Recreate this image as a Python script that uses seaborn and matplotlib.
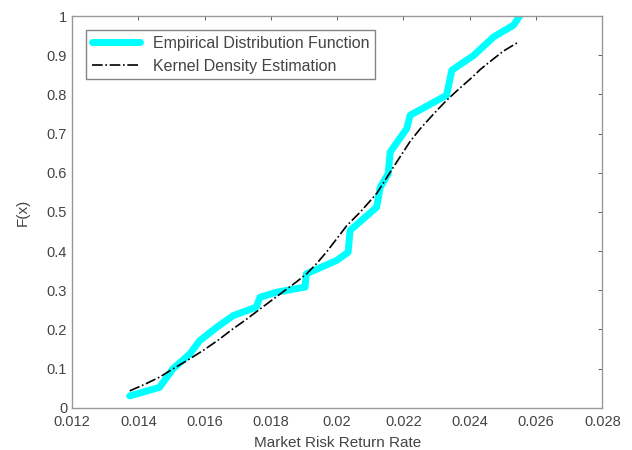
import numpy as np
import pandas as pd
import matplotlib
matplotlib.use("Agg")
import matplotlib.pyplot as plt
import seaborn as sns

# empirical distribution function
edf_x = [0.01374, 0.01464, 0.01504, 0.01504, 0.01555, 0.01585, 0.01636, 0.01686, 0.01756,
         0.01767, 0.01817, 0.01903, 0.01907, 0.01998, 0.02033, 0.02039, 0.02119, 0.02130,
         0.02154, 0.02160, 0.02210, 0.02220, 0.02330, 0.02346, 0.02412, 0.02472, 0.02532, 0.02550]
edf_y = [0.030, 0.052, 0.082, 0.116, 0.137, 0.171, 0.205, 0.235, 0.257,
         0.282, 0.295, 0.308, 0.342, 0.376, 0.397, 0.453, 0.512, 0.563,
         0.598, 0.653, 0.713, 0.747, 0.798, 0.862, 0.900, 0.947, 0.977, 1.000]

# kernel density estimation curve
kde_x = [0.01374, 0.01420, 0.01464, 0.01504, 0.01550, 0.01595, 0.01640, 0.01680, 0.01725,
         0.01767, 0.01805, 0.01840, 0.01875, 0.01908, 0.01940, 0.01970, 0.02000, 0.02029,
         0.02070, 0.02120, 0.02170, 0.02220, 0.02250, 0.02280, 0.02305, 0.02330, 0.02362,
         0.02402, 0.02432, 0.02470, 0.02502, 0.02547]
kde_y = [0.043, 0.060, 0.078, 0.099, 0.122, 0.146, 0.172, 0.198, 0.225,
         0.252, 0.276, 0.298, 0.320, 0.342, 0.370, 0.400, 0.433, 0.465,
         0.500, 0.548, 0.615, 0.680, 0.712, 0.740, 0.763, 0.785, 0.810,
         0.840, 0.864, 0.890, 0.911, 0.934]

edf = pd.DataFrame({"x": edf_x, "y": edf_y})
kde = pd.DataFrame({"x": kde_x, "y": kde_y})

sns.set_style("white")
plt.rcParams["font.family"] = ["Liberation Sans", "DejaVu Sans"]

fig = plt.figure(figsize=(6.32, 4.5), dpi=100)
ax = fig.add_axes([0.114, 0.094, 0.839, 0.870])

sns.lineplot(data=edf, x="x", y="y", sort=False, color="#00ffff", lw=5,
             label="Empirical Distribution Function", ax=ax)
sns.lineplot(data=kde, x="x", y="y", sort=False, color="black", lw=1.2,
             linestyle="-.", label="Kernel Density Estimation", ax=ax)

ax.set_xlim(0.012, 0.028)
ax.set_ylim(0, 1)
ax.set_xticks(np.arange(0.012, 0.0281, 0.002))
ax.set_xticklabels(["0.012", "0.014", "0.016", "0.018", "0.02", "0.022", "0.024", "0.026", "0.028"])
ax.set_yticks(np.arange(0, 1.01, 0.1))
ax.set_yticklabels(["0", "0.1", "0.2", "0.3", "0.4", "0.5", "0.6", "0.7", "0.8", "0.9", "1"])
ax.tick_params(direction="in", length=3, top=True, right=True, labelsize=10.5,
               colors="#444444", width=0.6)
ax.tick_params(axis="x", pad=5)
for s in ax.spines.values():
    s.set_color("#999999")
    s.set_linewidth(1.0)

ax.set_xlabel("Market Risk Return Rate", fontsize=11, color="#444444", labelpad=5)
ax.set_ylabel("F(x)", fontsize=11, color="#444444", labelpad=12)

leg = ax.legend(loc="upper left", fontsize=11.5, frameon=True, fancybox=False,
                edgecolor="#666666", handlelength=3.0, borderpad=0.35,
                labelspacing=0.5, bbox_to_anchor=(0.012, 0.985))
for t in leg.get_texts():
    t.set_color("#444444")

fig.savefig("out.png", dpi=100)
